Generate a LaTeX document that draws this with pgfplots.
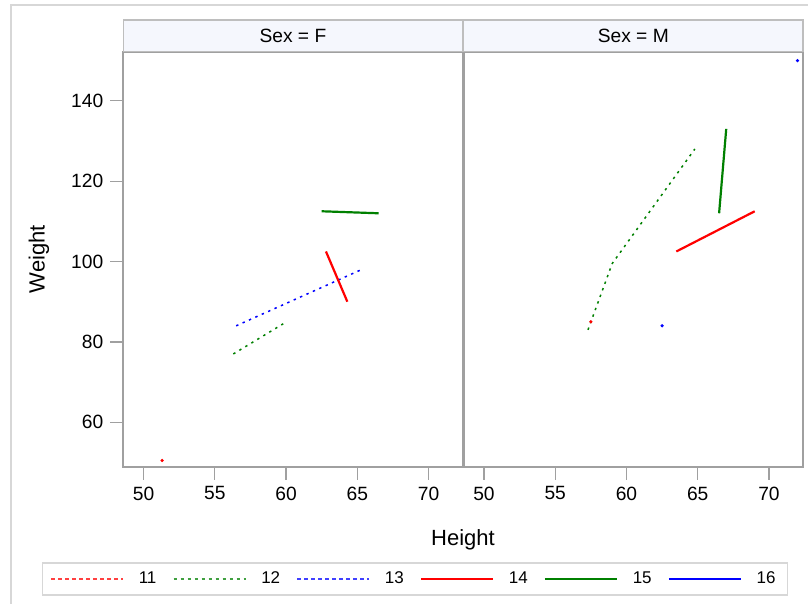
\documentclass[border=0pt]{standalone}
\usepackage{pgfplots}
\pgfplotsset{compat=1.18}
\usepackage{fontspec}
\setmainfont{Liberation Sans}
\definecolor{axisgray}{RGB}{160,160,160}
\definecolor{hdrfill}{RGB}{245,247,253}
\definecolor{hdrline}{RGB}{190,190,190}
\definecolor{framegray}{RGB}{215,215,215}
\definecolor{sgreen}{RGB}{0,128,0}
\definecolor{sred}{RGB}{255,0,0}
\definecolor{sblue}{RGB}{0,0,255}
\pgfplotsset{
  panel/.style={
    scale only axis, width=169.6pt, height=207.5pt,
    xmin=48.58, xmax=72.38, ymin=48.95, ymax=152.2,
    xtick={50,55,60,65,70}, ytick={60,80,100,120,140},
    tick align=outside, major tick length=6.5pt,
    axis line style={axisgray, line width=1pt},
    every tick/.style={axisgray, line width=0.6pt},
    tick label style={font=\fontsize{9.6}{11}\selectfont},
    /pgf/number format/assume math mode=true,
    clip mode=individual,
    xtick pos=lower, ytick pos=left,
  },
  dotline/.style={line width=0.75pt, dash pattern=on 1.2pt off 2.3pt},
  solidline/.style={line width=1.1pt},
  single/.style={mark=*, mark size=0.6pt, only marks},
}
\begin{document}
\begin{tikzpicture}
\useasboundingbox (0,0) rectangle (404pt,-302pt);
\draw[framegray, line width=0.75pt] (5.5pt,-302pt) -- (5.5pt,-2.5pt) -- (404pt,-2.5pt);

% ---------------- Sex = F ----------------
\begin{axis}[panel, at={(61.65pt,-233.35pt)}, anchor=south west,
  legend columns=6,
  legend cell align=left,
  legend image code/.code={\draw[#1] (0pt,0pt) -- (36pt,0pt);},
  legend style={at={(-0.2407,-0.2304)}, anchor=north west,
    draw=framegray, line width=0.75pt, inner xsep=4pt, inner ysep=2.3pt,
    font=\fontsize{8.5}{10}\selectfont,
    /tikz/every odd column/.append style={column sep=5.5pt},
    /tikz/every even column/.append style={column sep=6.2pt}},
]
\addplot[sgreen, dotline, forget plot] coordinates {(56.3,77.0) (59.8,84.5)};
\addplot[sblue, dotline, forget plot] coordinates {(56.5,84.0) (65.3,98.0)};
\addplot[sred, solidline, forget plot] coordinates {(62.8,102.5) (64.3,90.0)};
\addplot[sgreen, solidline, forget plot] coordinates {(62.5,112.5) (66.5,112.0)};
\addplot[sred, single, forget plot] coordinates {(51.3,50.5)};
\addlegendimage{sred!75, line width=0.7pt, dash pattern=on 1.8pt off 1.7pt}
\addlegendentry{11}
\addlegendimage{sgreen!75, line width=0.7pt, dash pattern=on 1.8pt off 1.7pt}
\addlegendentry{12}
\addlegendimage{sblue!75, line width=0.7pt, dash pattern=on 1.8pt off 1.7pt}
\addlegendentry{13}
\addlegendimage{sred, line width=0.8pt}
\addlegendentry{14}
\addlegendimage{sgreen, line width=0.8pt}
\addlegendentry{15}
\addlegendimage{sblue, line width=0.8pt}
\addlegendentry{16}
\draw[draw=hdrline, fill=hdrfill, line width=0.6pt] (axis description cs:0,1) rectangle ([yshift=15.85pt]axis description cs:1,1);
\node[font=\fontsize{9.6}{11}\selectfont] at ([yshift=7.9pt]axis description cs:0.5,1) {Sex = F};
\end{axis}

% ---------------- Sex = M ----------------
\begin{axis}[panel, at={(231.85pt,-233.35pt)}, anchor=south west,
  ymajorticks=false]
\addplot[sgreen, dotline] coordinates {(57.3,83.0) (59.0,99.5) (64.8,128.0)};
\addplot[sred, solidline] coordinates {(63.5,102.5) (69.0,112.5)};
\addplot[sgreen, solidline] coordinates {(66.5,112.0) (67.0,133.0)};
\addplot[sred, single] coordinates {(57.5,85.0)};
\addplot[sblue, single] coordinates {(62.5,84.0)};
\addplot[sblue, single] coordinates {(72.0,150.0)};
\draw[draw=hdrline, fill=hdrfill, line width=0.6pt] (axis description cs:0,1) rectangle ([yshift=15.85pt]axis description cs:1,1);
\node[font=\fontsize{9.6}{11}\selectfont] at ([yshift=7.9pt]axis description cs:0.5,1) {Sex = M};
\end{axis}

\node[anchor=base, font=\fontsize{11}{13}\selectfont] at (231.5pt,-272.5pt) {Height};
\node[rotate=90, font=\fontsize{11}{13}\selectfont] at (19.5pt,-129.5pt) {Weight};
\end{tikzpicture}
\end{document}
